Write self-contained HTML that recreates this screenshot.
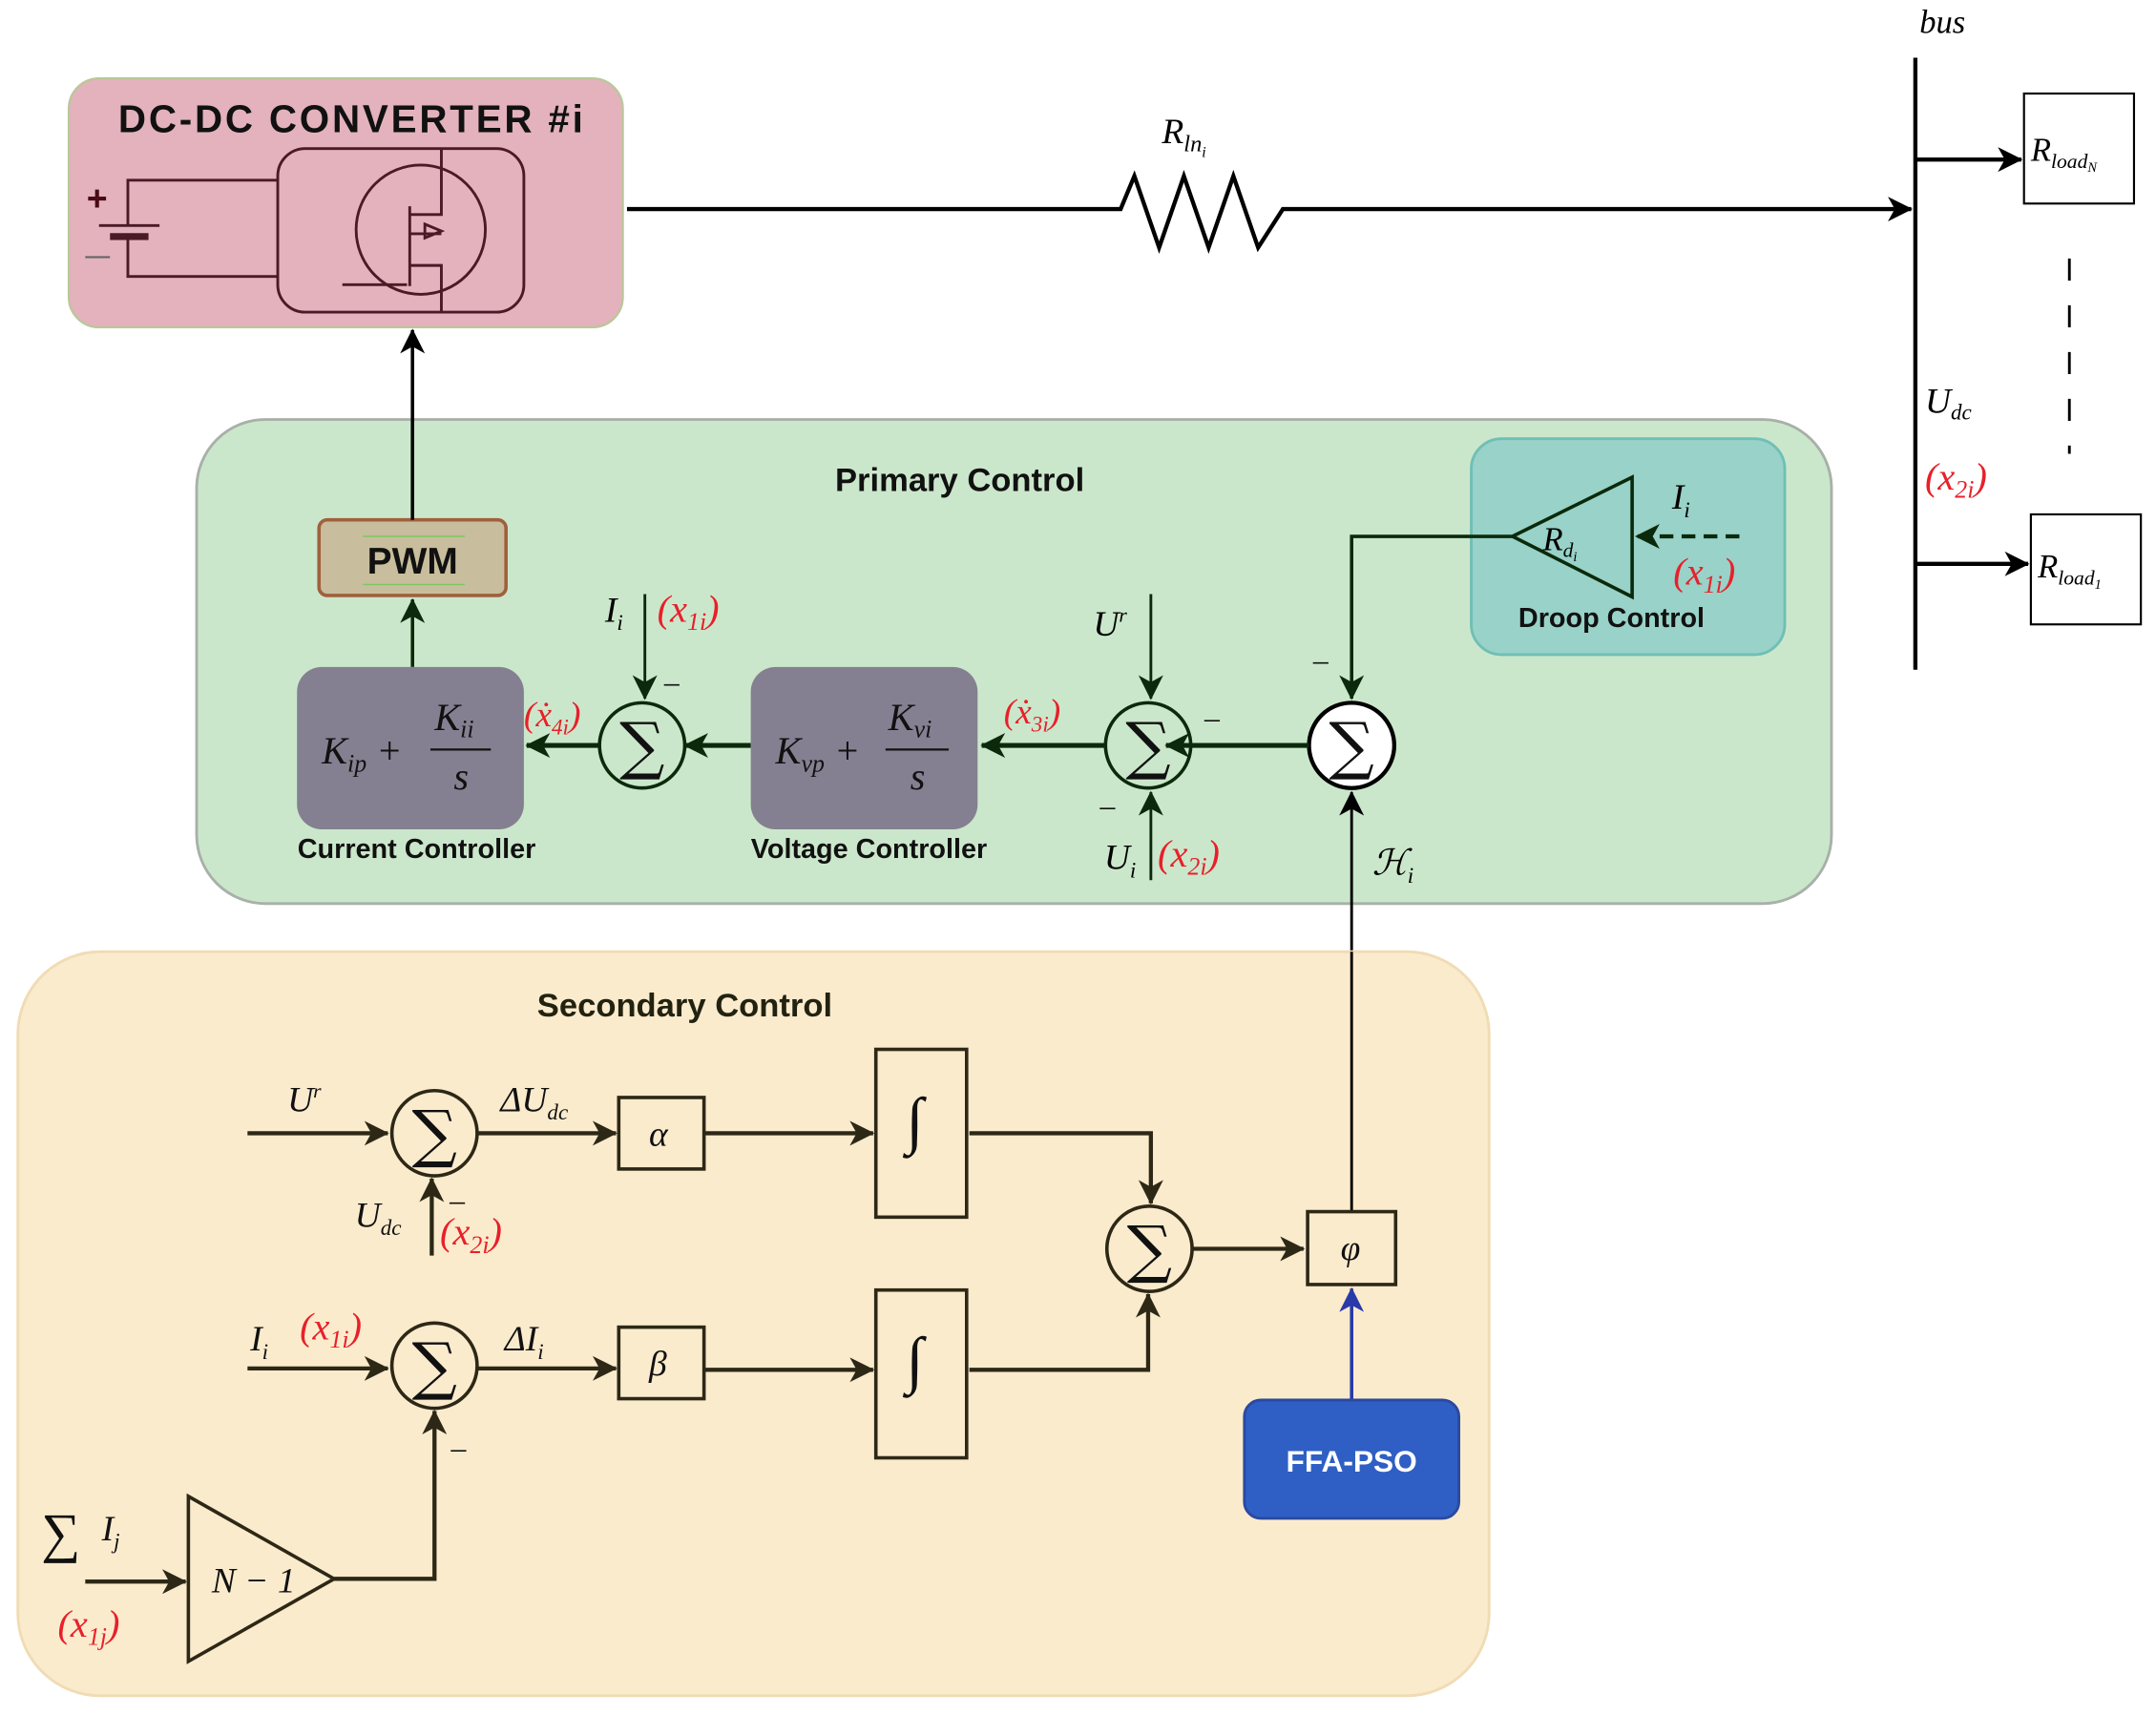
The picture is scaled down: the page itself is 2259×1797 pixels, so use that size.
<!DOCTYPE html>
<html><head><meta charset="utf-8"><style>
html,body{margin:0;padding:0;background:#fff}
svg{display:block}
.m{font-family:"Liberation Serif",serif;font-style:italic}
.b{font-family:"Liberation Sans",sans-serif;font-weight:bold}
.r{fill:#e8202a}
</style></head><body>
<svg width="2259" height="1797" viewBox="0 0 1568 1247" preserveAspectRatio="none" xmlns="http://www.w3.org/2000/svg">
<defs>
<marker id="ak" markerWidth="18" markerHeight="18" refX="17" refY="9" orient="auto" markerUnits="userSpaceOnUse" viewBox="0 0 18 18"><path d="M0,0 L18,9 L0,18 L5,9z" fill="#000"/></marker>
<marker id="ab" markerWidth="18" markerHeight="18" refX="17" refY="9" orient="auto" markerUnits="userSpaceOnUse" viewBox="0 0 18 18"><path d="M0,0 L18,9 L0,18 L5,9z" fill="#2d2816"/></marker>
<marker id="abl" markerWidth="18" markerHeight="18" refX="17" refY="9" orient="auto" markerUnits="userSpaceOnUse" viewBox="0 0 18 18"><path d="M0,0 L18,9 L0,18 L5,9z" fill="#2a3aa8"/></marker>
<marker id="agg" markerWidth="18" markerHeight="18" refX="17" refY="9" orient="auto" markerUnits="userSpaceOnUse" viewBox="0 0 18 18"><path d="M0,0 L18,9 L0,18 L5,9z" fill="#0b2a0b"/></marker>
</defs>

<rect x="50" y="57" width="403" height="181" rx="22" fill="#e3b2bc" stroke="#b8c898" stroke-width="1.5"/>
<text x="255" y="96" class="b" font-size="28" text-anchor="middle" fill="#111" textLength="338">DC-DC CONVERTER #i</text>
<g stroke="#4a1a26" stroke-width="2" fill="none">
<rect x="202" y="108" width="179" height="119" rx="20"/>
<circle cx="306" cy="167" r="47"/>
<path d="M93,164 V131 H202 M93,172 V201 H202 M72,164 H116"/>
<path d="M80,172 H108" stroke-width="5"/>
<path d="M249,207 H296 M298,150 V208 M298,156 H321 V108 M298,193 H321 V227 M298,170 H321 M309,163 L321,168 L309,173z"/>
</g>
<text x="63" y="153" font-size="26" class="b" fill="#4a0a14">+</text>
<path d="M62,187 H80" stroke="#666" stroke-width="1.5"/>

<path d="M456,152 H815 L825,128 L843,180 L861,128 L879,180 L897,128 L915,180 L933,152 H1390" fill="none" stroke="#000" stroke-width="3" marker-end="url(#ak)"/>
<text x="845" y="104" class="m" font-size="26">R<tspan font-size="17" dy="6">ln</tspan><tspan font-size="11" dy="4">i</tspan></text>

<path d="M1393,42 V487" stroke="#000" stroke-width="3"/>
<text x="1396" y="24" class="m" font-size="24">bus</text>
<rect x="1472" y="68" width="80" height="80" fill="#fff" stroke="#000" stroke-width="1.5"/>
<text x="1477" y="117" class="m" font-size="24">R<tspan font-size="15" dy="5">load</tspan><tspan font-size="10" dy="3">N</tspan></text>
<rect x="1477" y="374" width="80" height="80" fill="#fff" stroke="#000" stroke-width="1.5"/>
<text x="1482" y="420" class="m" font-size="24">R<tspan font-size="15" dy="5">load</tspan><tspan font-size="10" dy="3">1</tspan></text>
<path d="M1393,116 H1470" stroke="#000" stroke-width="3" marker-end="url(#ak)"/>
<path d="M1393,410 H1475" stroke="#000" stroke-width="3" marker-end="url(#ak)"/>
<path d="M1505,188 V330" stroke="#000" stroke-width="2" stroke-dasharray="16,18"/>
<text x="1400" y="300" class="m" font-size="26">U<tspan font-size="16" dy="5">dc</tspan></text>
<text x="1400" y="356" class="m r" font-size="28">(x<tspan font-size="18" dy="6">2i</tspan><tspan dy="-6">)</tspan></text>

<rect x="143" y="305" width="1189" height="352" rx="50" fill="#cbe7cb" stroke="#a8b0a8" stroke-width="2"/>
<text x="698" y="357" class="b" font-size="24" text-anchor="middle" fill="#111">Primary Control</text>
<rect x="1070" y="319" width="228" height="157" rx="22" fill="#98d2c8" stroke="#6fbfb6" stroke-width="2"/>
<path d="M1100,390 L1187,347 L1187,434z" fill="none" stroke="#0b2a0b" stroke-width="2.5"/>
<text x="1122" y="400" class="m" font-size="24">R<tspan font-size="15" dy="5">d</tspan><tspan font-size="10" dy="3">i</tspan></text>
<path d="M1265,390 H1190" stroke="#0b2a0b" stroke-width="3" stroke-dasharray="10,6" marker-end="url(#agg)"/>
<text x="1216" y="370" class="m" font-size="26">I<tspan font-size="16" dy="6">i</tspan></text>
<text x="1217" y="425" class="m r" font-size="28">(x<tspan font-size="18" dy="6">1i</tspan><tspan dy="-6">)</tspan></text>
<text x="1172" y="456" class="b" font-size="20" text-anchor="middle" fill="#111">Droop Control</text>
<path d="M1100,390 H983 V508" fill="none" stroke="#0b2a0b" stroke-width="2.5" marker-end="url(#agg)"/>
<text x="955" y="487" font-size="22" fill="#111">–</text>

<rect x="232" y="378" width="136" height="55" rx="6" fill="#c8bd9c" stroke="#a0603c" stroke-width="2.5"/>
<text x="300" y="417" class="b" font-size="27" text-anchor="middle" fill="#111">PWM</text>
<path d="M264,390 H338 M264,425 H338" stroke="#7ac860" stroke-width="1"/>
<path d="M300,378 V240" stroke="#000" stroke-width="2.5" marker-end="url(#ak)"/>
<path d="M300,485 V436" stroke="#0b2a0b" stroke-width="2.5" marker-end="url(#agg)"/>

<rect x="216" y="485" width="165" height="118" rx="18" fill="#858091"/>
<rect x="546" y="485" width="165" height="118" rx="18" fill="#858091"/>
<g class="m" font-size="28" fill="#111">
<text x="234" y="555">K<tspan font-size="18" dy="6">ip</tspan><tspan dy="-6"> +</tspan></text>
<text x="316" y="531">K<tspan font-size="18" dy="5">ii</tspan></text>
<text x="330" y="574">s</text>
<text x="564" y="555">K<tspan font-size="18" dy="6">vp</tspan><tspan dy="-6"> +</tspan></text>
<text x="646" y="531">K<tspan font-size="18" dy="5">vi</tspan></text>
<text x="662" y="574">s</text>
</g>
<path d="M313,545 H357 M644,545 H690" stroke="#111" stroke-width="1.5"/>
<text x="303" y="624" class="b" font-size="20" text-anchor="middle" fill="#111">Current Controller</text>
<text x="632" y="624" class="b" font-size="20" text-anchor="middle" fill="#111">Voltage Controller</text>

<g stroke="#0b2a0b" stroke-width="2.5" fill="none">
<circle cx="467" cy="542" r="31"/>
<circle cx="835" cy="542" r="31"/>
<circle cx="983" cy="542" r="31" fill="#fff" stroke="#000" stroke-width="3"/>
</g>
<g font-family="DejaVu Serif,serif" font-size="46" text-anchor="middle" fill="#111">
<text x="467" y="558">∑</text><text x="835" y="558">∑</text><text x="983" y="558">∑</text>
</g>
<g stroke="#0b2a0b" stroke-width="3.5" fill="none">
<path d="M952,542 H848" marker-end="url(#agg)"/>
<path d="M804,542 H714" marker-end="url(#agg)"/>
<path d="M546,542 H498" marker-end="url(#agg)"/>
<path d="M436,542 H383" marker-end="url(#agg)"/>
</g>
<g stroke="#0b2a0b" stroke-width="2" fill="none">
<path d="M837,432 V508" marker-end="url(#agg)"/>
<path d="M837,640 V576" marker-end="url(#agg)"/>
<path d="M469,432 V508" marker-end="url(#agg)"/>
<path d="M983,880 V576" stroke="#000" marker-end="url(#ak)"/>
</g>
<g font-size="22" fill="#111"><text x="483" y="503">–</text><text x="876" y="529">–</text><text x="800" y="593">–</text></g>
<text x="440" y="452" class="m" font-size="26">I<tspan font-size="16" dy="6">i</tspan></text>
<text x="478" y="452" class="m r" font-size="28">(x<tspan font-size="18" dy="6">1i</tspan><tspan dy="-6">)</tspan></text>
<text x="795" y="462" class="m" font-size="26">U<tspan font-size="15" dy="-10">r</tspan></text>
<text x="803" y="632" class="m" font-size="26">U<tspan font-size="16" dy="6">i</tspan></text>
<text x="842" y="630" class="m r" font-size="28">(x<tspan font-size="18" dy="6">2i</tspan><tspan dy="-6">)</tspan></text>
<text x="381" y="528" class="m r" font-size="26">(ẋ<tspan font-size="16" dy="6">4i</tspan><tspan dy="-6">)</tspan></text>
<text x="730" y="526" class="m r" font-size="26">(ẋ<tspan font-size="16" dy="6">3i</tspan><tspan dy="-6">)</tspan></text>
<text x="998" y="636" class="m" font-size="26">ℋ<tspan font-size="16" dy="6">i</tspan></text>

<rect x="13" y="692" width="1070" height="541" rx="60" fill="#fbebcd" stroke="#f0dcb4" stroke-width="2"/>
<line x1="983" y1="692" x2="983" y2="880" stroke="#000" stroke-width="2"/>
<text x="498" y="739" class="b" font-size="24" text-anchor="middle" fill="#221">Secondary Control</text>
<g stroke="#2d2816" stroke-width="2.5" fill="none">
<circle cx="316" cy="824" r="31"/><circle cx="316" cy="993" r="31"/><circle cx="836" cy="908" r="31"/>
<rect x="450" y="798" width="62" height="52"/><rect x="450" y="965" width="62" height="52"/>
<rect x="637" y="763" width="66" height="122"/><rect x="637" y="938" width="66" height="122"/>
<rect x="951" y="881" width="64" height="53"/>
<path d="M137,1088 L137,1208 L243,1148z"/>
</g>
<g font-family="DejaVu Serif,serif" font-size="46" text-anchor="middle" fill="#111">
<text x="316" y="840">∑</text><text x="316" y="1009">∑</text><text x="836" y="924">∑</text>
</g>
<g stroke="#2d2816" stroke-width="3" fill="none">
<path d="M180,824 H282" marker-end="url(#ab)"/>
<path d="M347,824 H448" marker-end="url(#ab)"/>
<path d="M512,824 H635" marker-end="url(#ab)"/>
<path d="M705,824 H837 V875" marker-end="url(#ab)"/>
<path d="M180,995 H282" marker-end="url(#ab)"/>
<path d="M347,995 H448" marker-end="url(#ab)"/>
<path d="M512,996 H635" marker-end="url(#ab)"/>
<path d="M705,996 H835 V941" marker-end="url(#ab)"/>
<path d="M867,908 H948" marker-end="url(#ab)"/>
<path d="M314,913 V857" marker-end="url(#ab)"/>
<path d="M243,1148 H316 V1026" marker-end="url(#ab)"/>
<path d="M62,1150 H135" marker-end="url(#ab)"/>
</g>
<path d="M983,1018 V937" stroke="#2a3aa8" stroke-width="2.5" marker-end="url(#abl)"/>
<rect x="905" y="1018" width="156" height="86" rx="12" fill="#2f5fc4" stroke="#2a4aa0" stroke-width="2"/>
<text x="983" y="1070" class="b" font-size="22" text-anchor="middle" fill="#fff">FFA-PSO</text>
<g class="m" font-size="26" fill="#111">
<text x="209" y="808">U<tspan font-size="15" dy="-10">r</tspan></text>
<text x="364" y="808">ΔU<tspan font-size="16" dy="6">dc</tspan></text>
<text x="472" y="833">α</text>
<text x="472" y="1000">β</text>
<text x="975" y="916">φ</text>
<text x="659" y="830" font-size="46">∫</text>
<text x="659" y="1004" font-size="46">∫</text>
<text x="258" y="892">U<tspan font-size="16" dy="6">dc</tspan></text>
<text x="182" y="982">I<tspan font-size="16" dy="6">i</tspan></text>
<text x="367" y="982">ΔI<tspan font-size="16" dy="6">i</tspan></text>
<text x="154" y="1158">N − 1</text>
<text x="30" y="1128" font-size="40" font-style="normal">∑</text>
<text x="74" y="1120">I<tspan font-size="16" dy="6">j</tspan></text>
</g>
<text x="320" y="905" class="m r" font-size="28">(x<tspan font-size="18" dy="6">2i</tspan><tspan dy="-6">)</tspan></text>
<text x="218" y="974" class="m r" font-size="28">(x<tspan font-size="18" dy="6">1i</tspan><tspan dy="-6">)</tspan></text>
<text x="42" y="1190" class="m r" font-size="28">(x<tspan font-size="18" dy="6">1j</tspan><tspan dy="-6">)</tspan></text>
<g font-size="22" fill="#111"><text x="327" y="880">–</text><text x="328" y="1060">–</text></g>
</svg>
</body></html>
